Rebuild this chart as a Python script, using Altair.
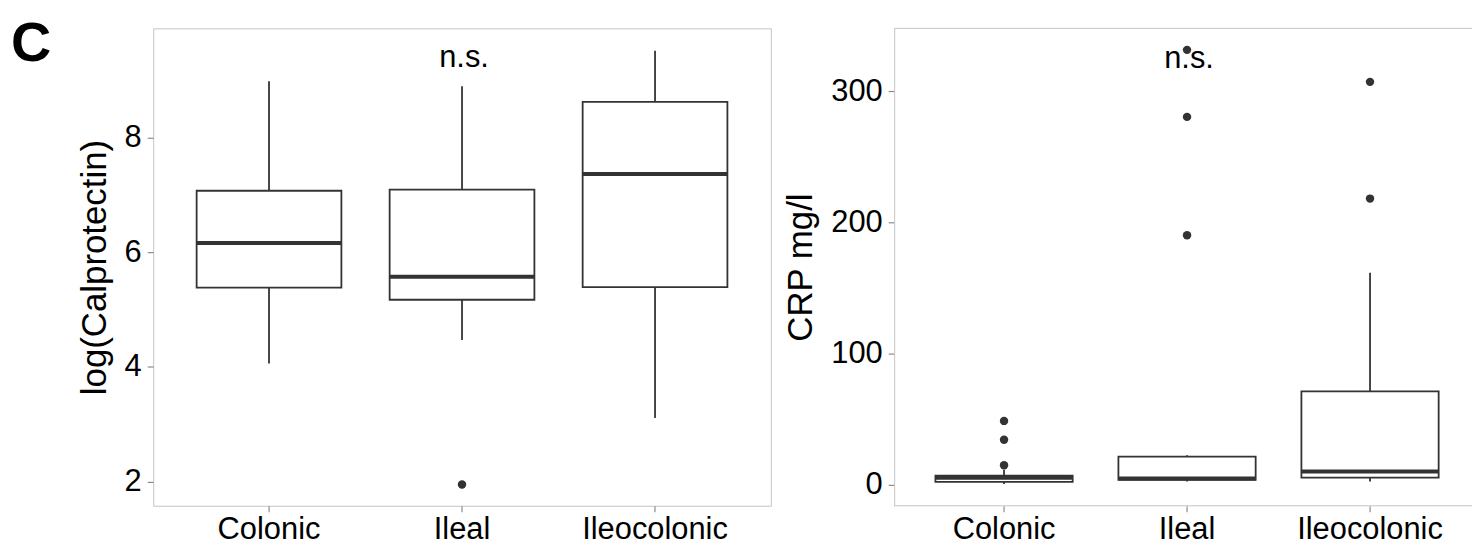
import altair as alt
import pandas as pd

FONT = "Liberation Sans"
DARK = "#333333"
FRAME = "#c4c4c4"
TICK = "#8c8c8c"

categories = ["Colonic", "Ileal", "Ileocolonic"]

# Left panel: log(Calprotectin) box statistics
calp_lower = [4.06, 4.47, 3.11]
calp_q1 = [5.38, 5.17, 5.39]
calp_median = [6.16, 5.57, 7.36]
calp_q3 = [7.07, 7.09, 8.62]
calp_upper = [8.98, 8.89, 9.51]
calp_out_cat = ["Ileal"]
calp_out_val = [1.95]

# Right panel: CRP mg/l box statistics
crp_lower = [0.5, 2.5, 2.5]
crp_q1 = [2.2, 3.8, 5.5]
crp_median = [5.3, 4.8, 10.1]
crp_q3 = [7.0, 21.4, 71.2]
crp_upper = [11.5, 22.5, 161.7]
crp_out_cat = ["Colonic", "Colonic", "Colonic", "Ileal", "Ileal", "Ileal",
               "Ileocolonic", "Ileocolonic"]
crp_out_val = [14.9, 34.3, 48.7, 190.3, 280.5, 331.6, 218.2, 307.2]

# annotations
ns_cat = ["Ileal"]
ns_text = ["n.s."]
calp_ns_y = [9.22]
crp_ns_y = [318.0]
panel_label = ["C"]

calp_ticks = [2, 4, 6, 8]
crp_ticks = [0, 100, 200, 300]

LW, RW, H = 621, 578, 480


def make_panel(lower, q1, med, q3, upper, out_cat, out_val, ns_y, ydomain, yticks,
               ytitle, xscale, framed):
    box_df = pd.DataFrame({"cat": categories, "lower": lower, "q1": q1,
                           "median": med, "q3": q3, "upper": upper})
    out_df = pd.DataFrame({"cat": out_cat, "val": out_val})
    ns_df = pd.DataFrame({"cat": ns_cat, "y": ns_y, "label": ns_text})

    xaxis = alt.Axis(labelAngle=0, title=None, tickSize=6, tickColor=TICK,
                     tickWidth=1.2, labelPadding=3, labelFont=FONT,
                     labelFontSize=31, labelColor="black",
                     domain=False)
    yaxis = alt.Axis(values=yticks, title=ytitle, grid=False, tickSize=6,
                     tickColor=TICK, tickWidth=1.2, labelPadding=6,
                     labelFont=FONT, labelFontSize=31, labelColor="black",
                     titleFont=FONT, titleFontSize=35, titleFontWeight="normal",
                     titleColor="black", titlePadding=12,
                     domain=not framed, domainColor=FRAME, domainWidth=1)
    yscale = alt.Scale(domain=ydomain, nice=False, zero=False)

    def xenc():
        return alt.X("cat:N", sort=categories, scale=xscale, axis=xaxis)

    def yenc(field):
        return alt.Y(field, scale=yscale, axis=yaxis)

    whisker = alt.Chart(box_df).mark_rule(color=DARK, strokeWidth=1.8).encode(
        x=xenc(), y=yenc("lower:Q"), y2="upper:Q")
    box = alt.Chart(box_df).mark_bar(fill="white", stroke=DARK, strokeWidth=1.8).encode(
        x=xenc(), y=yenc("q1:Q"), y2="q3:Q")
    median = alt.Chart(box_df).mark_bar(fill=DARK, stroke=DARK, strokeWidth=4).encode(
        x=xenc(), y=yenc("median:Q"), y2="median:Q")
    outliers = alt.Chart(out_df).mark_circle(size=72, color=DARK, opacity=1).encode(
        x=xenc(), y=yenc("val:Q"))
    ns = alt.Chart(ns_df).mark_text(font=FONT, fontSize=31, baseline="alphabetic",
                                    dx=2, color="black").encode(
        x=xenc(), y=yenc("y:Q"), text="label:N")
    return [whisker, box, median, outliers, ns]


left_layers = make_panel(
    calp_lower, calp_q1, calp_median, calp_q3, calp_upper, calp_out_cat,
    calp_out_val, calp_ns_y, [1.58, 9.90], calp_ticks, "log(Calprotectin)",
    alt.Scale(domain=categories, paddingInner=0.25, paddingOuter=0.225), True)

label = alt.Chart(pd.DataFrame({"t": panel_label})).mark_text(
    font=FONT, fontSize=56, fontWeight="bold", align="left",
    baseline="alphabetic", color="black").encode(
    text="t:N", x=alt.value(-143), y=alt.value(33))

left = alt.layer(*left_layers, label).properties(
    width=LW, height=H,
    view=alt.ViewBackground(stroke=FRAME, strokeWidth=1))

right_layers = make_panel(
    crp_lower, crp_q1, crp_median, crp_q3, crp_upper, crp_out_cat,
    crp_out_val, crp_ns_y, [-16.0, 348.0], crp_ticks, "CRP mg/l",
    alt.Scale(domain=categories, paddingInner=0.25, paddingOuter=0.1957,
              align=0.576), False)

border_df = pd.DataFrame({"k": [0]})
top_border = alt.Chart(border_df).mark_rule(color=FRAME, strokeWidth=1).encode(
    x=alt.value(0), x2=alt.value(RW + 3), y=alt.value(0))
bottom_border = alt.Chart(border_df).mark_rule(color=FRAME, strokeWidth=1).encode(
    x=alt.value(0), x2=alt.value(RW + 3), y=alt.value(H))

right = alt.layer(top_border, bottom_border, *right_layers).properties(
    width=RW, height=H,
    view=alt.ViewBackground(stroke="transparent"))

chart = alt.hconcat(left, right, spacing=124, bounds="flush").properties(
    padding={"left": 2, "top": 6, "right": 0, "bottom": 0},
    background="white",
)

chart.save("out.html", embed_options={"renderer": "svg", "actions": False})
